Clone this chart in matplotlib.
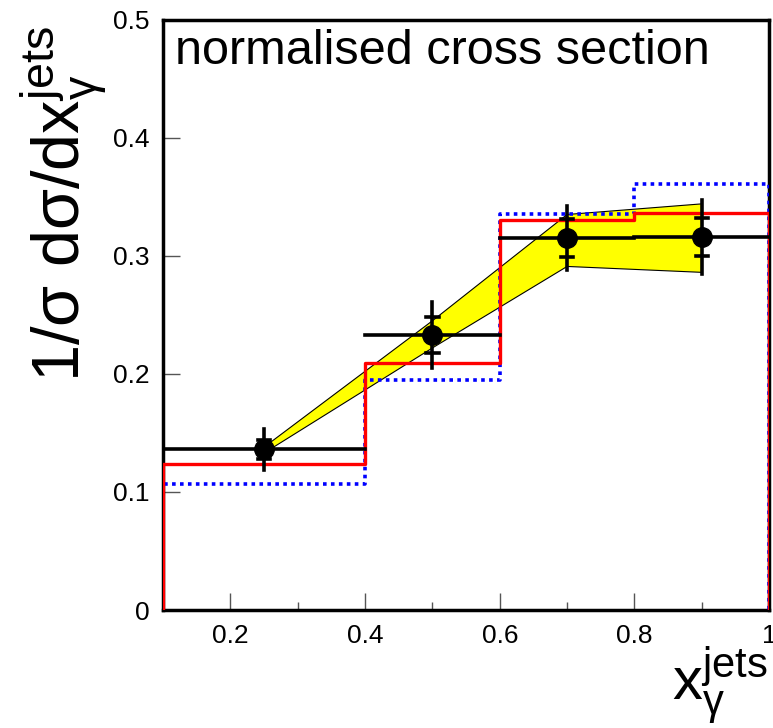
import matplotlib
matplotlib.use('Agg')
import matplotlib.pyplot as plt
import numpy as np

plt.rcParams['font.family'] = ['Liberation Sans', 'DejaVu Sans']
plt.rcParams['mathtext.fontset'] = 'custom'
plt.rcParams['mathtext.rm'] = 'Liberation Sans'
plt.rcParams['mathtext.it'] = 'Liberation Sans'
plt.rcParams['mathtext.default'] = 'regular'

# bin edges and measured data
bin_edges = [0.1, 0.4, 0.6, 0.8, 1.0]
x_points = [0.25, 0.5, 0.7, 0.9]
data_vals = [0.136, 0.233, 0.315, 0.316]
stat_err = [0.008, 0.015, 0.016, 0.016]
tot_err = [0.017, 0.028, 0.027, 0.031]

# model predictions per bin
red_vals = [0.124, 0.209, 0.330, 0.336]
blue_vals = [0.107, 0.195, 0.335, 0.361]

# yellow uncertainty band at the points
band_x = [0.25, 0.5, 0.7, 0.9]
band_hi = [0.138, 0.245, 0.335, 0.344]
band_lo = [0.133, 0.222, 0.291, 0.286]


def step_path(edges, vals):
    xs = [edges[0]]
    ys = [0]
    for i, v in enumerate(vals):
        xs += [edges[i], edges[i + 1]]
        ys += [v, v]
    xs.append(edges[-1])
    ys.append(0)
    return xs, ys


fig = plt.figure(figsize=(7.73, 7.28), dpi=100)
ax = fig.add_axes([0.211, 0.162, 0.784, 0.811])

ax.fill_between(band_x, band_lo, band_hi, facecolor='yellow', edgecolor='none', zorder=1)
ax.plot(band_x, band_hi, color='black', lw=0.8, zorder=2)
ax.plot(band_x, band_lo, color='black', lw=0.8, zorder=2)

bx, by = step_path(bin_edges, blue_vals)
ax.plot(bx, by, color='blue', lw=2.6, linestyle=(0, (1.0, 1.2)), zorder=3)
rx, ry = step_path(bin_edges, red_vals)
ax.plot(rx, ry, color='red', lw=2.4, zorder=3)

# data: horizontal bars across bins, total error lines, stat error caps
for i in range(len(x_points)):
    ax.plot([bin_edges[i], bin_edges[i + 1]], [data_vals[i]] * 2, color='black', lw=2.6, zorder=4)
    ax.plot([x_points[i]] * 2, [data_vals[i] - tot_err[i], data_vals[i] + tot_err[i]],
            color='black', lw=2.6, zorder=4)
    for s in (-1, 1):
        ax.plot([x_points[i] - 0.009, x_points[i] + 0.009], [data_vals[i] + s * stat_err[i]] * 2,
                color='black', lw=2.6, zorder=4)
ax.plot(x_points, data_vals, 'o', color='black', ms=14, zorder=5)

ax.set_xlim(0.1, 1.0)
ax.set_ylim(0, 0.5)
ax.set_xticks([0.2, 0.4, 0.6, 0.8, 1.0])
ax.set_xticklabels(['0.2', '0.4', '0.6', '0.8', '1'])
ax.set_xticks([0.3, 0.5, 0.7, 0.9], minor=True)
ax.set_yticks([0, 0.1, 0.2, 0.3, 0.4, 0.5])
ax.set_yticklabels(['0', '0.1', '0.2', '0.3', '0.4', '0.5'])
ax.tick_params(which='major', direction='in', length=12, width=1, labelsize=19, pad=10, color='#555555')
ax.tick_params(which='minor', direction='in', length=6, width=1, color='#555555')
ax.tick_params(axis='y', pad=10)
for sp in ax.spines.values():
    sp.set_linewidth(2.5)

ax.text(0.02, 0.985, 'normalised cross section', transform=ax.transAxes,
        fontsize=35, ha='left', va='top')

fig.text(0.083, 1 - 26 / 728, r'1/σ dσ/dx$_{\gamma}^{jets}$', rotation=90,
         fontsize=48, ha='center', va='top')
fig.text(0.993, 0.0, r'x$_{\gamma}^{jets}$', fontsize=43, ha='right', va='bottom')

fig.savefig('out.png', dpi=100)
